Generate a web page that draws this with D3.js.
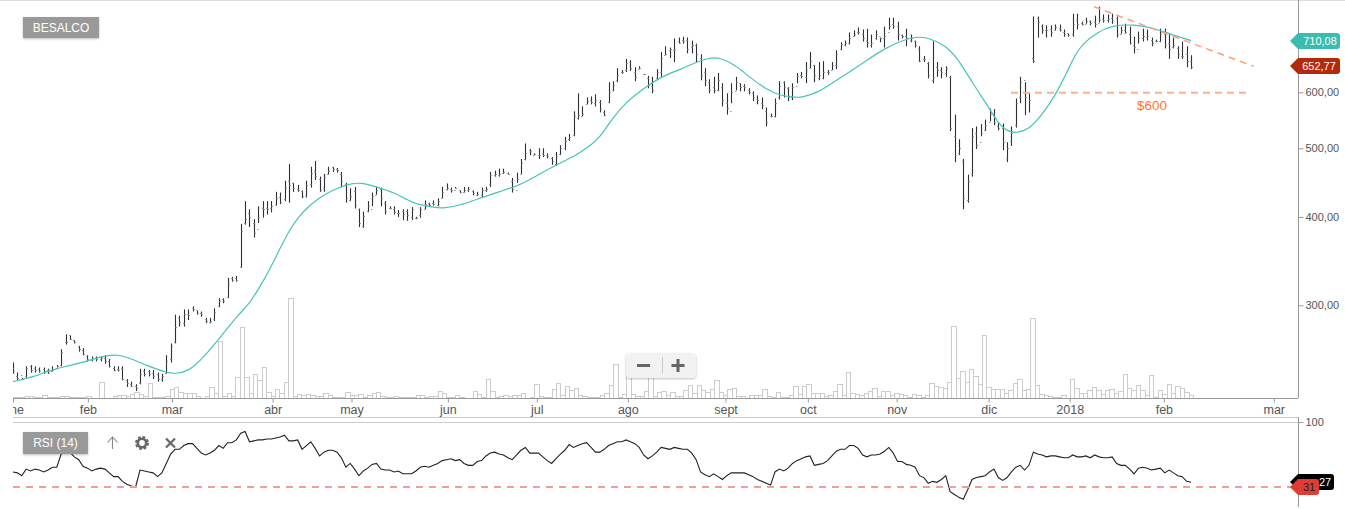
<!DOCTYPE html>
<html>
<head>
<meta charset="utf-8">
<script src="https://cdn.jsdelivr.net/npm/d3@7"></script>
<style>
  body { margin: 0; background: #fff; }
  svg { display: block; font-family: "Liberation Sans", Arial, sans-serif; }
</style>
</head>
<body>
<div id="chart"></div>
<script>
// daily bars
const high = [
249,241,237,246,247,246,245,245,244,246,
247,260,273,272,268,263,261,255,254,254,
254,255,252,246,246,246,236,234,232,244,
244,243,243,241,240,255,265,291,290,296,
296,299,295,294,288,288,297,307,307,328,
329,330,391,421,410,397,414,421,421,421,
434,433,450,475,447,444,436,450,471,480,
456,460,471,471,469,463,447,439,441,411,
407,421,433,441,440,421,414,414,409,410,
410,413,400,413,422,419,422,425,441,446,
440,441,436,441,441,436,434,440,441,463,
465,468,468,462,454,462,483,508,499,492,
500,500,492,486,494,505,519,524,564,598,
573,590,592,596,585,566,620,622,649,645,
669,666,651,653,637,633,631,647,684,697,
694,715,717,719,717,710,703,679,649,626,
631,639,618,598,618,631,618,616,608,602,
594,590,571,560,588,622,622,610,618,639,
641,662,684,656,662,664,645,662,688,706,
710,729,734,741,736,738,724,734,717,743,
765,765,755,724,738,724,710,697,675,662,
708,662,651,653,633,558,515,483,459,534,
537,541,549,569,568,544,542,510,537,588,
631,620,598,768,768,748,746,746,748,748,
736,726,775,775,755,765,758,770,793,773,
773,775,768,743,750,743,719,731,738,736,
717,712,738,738,726,717,697,708,697,677];
const low = [
240,235,236,237,241,241,241,240,240,242,
245,246,264,268,265,258,255,250,250,250,
250,248,245,242,242,235,230,230,227,232,
238,238,236,234,234,240,249,265,280,280,
286,294,291,289,283,283,285,298,302,307,
324,324,339,390,387,374,392,399,403,406,
415,417,421,419,434,434,425,426,440,451,
434,434,459,463,462,441,419,421,411,387,
386,406,414,430,414,403,410,403,400,396,
395,396,397,399,410,414,415,414,425,436,
433,439,432,433,434,429,428,426,434,441,
456,456,460,459,433,447,460,481,489,489,
483,486,484,474,472,489,497,512,520,549,
555,577,577,573,562,555,579,602,620,637,
641,643,622,647,635,608,598,626,631,677,
671,662,703,703,681,681,660,624,612,598,
598,602,573,558,579,604,602,602,596,583,
577,568,537,553,553,586,590,583,585,618,
628,618,649,620,624,626,635,645,647,688,
697,701,719,724,708,694,694,712,706,694,
736,738,710,715,697,706,694,662,662,628,
618,631,628,631,529,478,489,410,419,456,
499,520,529,546,539,530,497,478,504,535,
579,557,562,660,717,726,717,719,734,731,
719,719,719,736,746,750,746,741,753,753,
753,750,717,726,726,701,681,703,708,710,
697,706,706,692,669,692,669,669,651,647];
const open = [
245,238,239,238,246,245,244,244,243,242,
245,247,266,272,268,263,259,254,251,253,
252,253,250,245,244,245,235,232,231,233,
242,242,241,240,236,241,252,266,288,283,
292,297,295,293,287,284,287,299,306,308,
328,328,340,392,405,392,385,412,412,412,
416,427,424,450,447,438,435,428,445,465,
452,440,460,470,468,460,445,422,435,410,
388,408,410,430,438,418,412,410,405,408,
408,400,399,402,411,418,418,416,426,438,
438,437,436,434,437,435,430,430,436,445,
458,458,462,461,450,436,460,483,497,490,
490,492,490,484,475,491,500,515,523,552,
556,578,586,580,582,562,582,604,625,640,
645,662,642,648,636,628,612,628,640,678,
688,688,708,712,712,695,700,670,640,620,
610,605,610,580,565,602,618,612,605,598,
588,580,565,555,555,590,620,608,590,612,
635,630,650,655,628,628,642,645,655,690,
700,705,720,730,725,710,700,715,720,715,
730,750,745,722,720,712,708,690,668,660,
625,652,645,638,630,520,492,480,422,460,
525,510,530,545,560,538,535,485,512,540,
590,625,600,670,765,745,735,738,735,740,
730,728,725,760,752,750,757,755,752,762,
758,765,765,725,735,725,700,690,715,718,
712,708,708,725,705,695,692,675,680,665];
const close = [
242,237,236,245,243,243,242,242,241,243,
246,258,266,269,266,260,256,252,253,252,
253,250,246,243,243,236,233,231,229,240,
240,240,238,236,238,250,263,280,284,292,
291,296,293,292,285,285,294,304,304,322,
326,326,382,397,400,380,400,410,410,414,
426,420,440,444,440,436,428,444,462,457,
437,455,465,468,466,449,426,428,416,392,
401,414,428,436,425,408,412,406,405,404,
403,410,399,410,417,416,417,421,434,440,
436,440,434,436,438,432,431,436,438,458,
460,460,463,460,438,452,477,492,495,491,
490,490,488,480,487,500,512,518,556,558,
560,583,582,585,568,558,600,615,635,640,
660,650,630,650,636,615,605,640,670,680,
690,690,705,710,690,700,680,635,625,605,
605,625,585,570,600,620,610,610,600,590,
585,575,545,555,580,612,610,590,610,632,
632,645,665,635,635,640,640,655,680,702,
705,715,725,730,715,705,705,725,715,720,
745,745,725,720,715,715,700,665,668,635,
630,645,640,650,535,490,500,425,450,520,
505,525,540,560,545,535,510,500,525,580,
620,590,585,665,755,735,735,730,742,735,
725,722,750,750,750,757,752,750,760,760,
762,760,725,735,730,705,695,715,720,720,
705,710,725,700,690,700,680,675,665,652];
// relative volume, no axis in the picture
const volume = [
1,1,1,2,2,1,1,3,1,1,
1,2,2,1,1,1,1,2,0,0,
16,0,0,2,3,3,2,4,6,4,
2,15,1,1,1,2,9,11,6,5,
5,5,2,0,2,11,5,57,2,5,
2,21,71,21,5,24,18,31,6,2,
9,5,16,100,2,4,3,4,3,2,
2,5,3,1,1,1,6,3,3,4,
1,3,5,6,2,1,1,2,1,1,
1,1,3,3,1,2,2,7,5,1,
1,3,1,0,0,7,4,1,19,7,
1,2,3,2,3,3,5,0,1,14,
2,1,1,9,15,3,12,8,10,3,
2,1,1,1,3,5,13,34,1,4,
23,4,2,2,7,21,2,6,7,3,
6,2,2,8,13,5,13,8,6,9,
18,6,3,9,10,2,2,0,3,3,
3,9,2,1,6,1,1,3,12,4,
12,14,5,5,5,2,3,7,14,3,
26,5,4,3,5,7,10,2,7,7,
3,5,4,3,1,4,3,1,3,15,
12,11,10,16,72,20,27,16,29,22,
14,63,11,9,9,9,5,8,15,19,
8,9,80,13,4,3,2,1,1,3,
0,19,10,5,5,8,11,8,4,8,
9,5,7,24,10,8,13,8,3,23,
1,8,4,14,5,12,10,6,3];
const rsi = [
47,46,43,50,48,50,49,47,49,52,
52,66,69,68,63,60,53,51,48,50,
51,50,46,42,42,37,34,32,31,49,
48,47,46,42,46,56,66,71,71,75,
77,77,72,67,65,67,70,75,72,78,
78,81,88,90,79,80,81,81,82,82,
83,84,86,80,80,81,71,75,79,72,
64,68,70,70,68,62,52,56,50,43,
48,51,55,56,50,49,49,47,48,45,
45,45,48,52,53,52,54,56,59,60,
61,59,60,56,54,54,58,59,64,67,
68,66,65,62,60,65,70,73,67,67,
67,63,59,56,61,66,70,76,73,75,
77,78,73,68,68,71,75,77,79,79,
81,79,77,73,65,61,64,68,73,72,
71,73,72,71,71,67,60,47,44,42,
45,42,39,43,46,46,46,46,44,42,
39,37,35,33,47,50,48,51,56,59,
61,63,64,54,55,56,59,64,69,71,
71,75,75,72,65,63,65,65,66,69,
73,67,58,58,55,54,52,43,41,35,
37,36,39,43,26,23,20,18,28,39,
41,42,43,47,50,41,38,41,47,52,
54,49,54,68,66,65,63,64,64,63,
62,62,65,63,63,64,62,65,63,62,
62,63,56,54,54,50,45,51,52,51,
49,50,51,46,49,46,43,42,37,36];

// moving average, read at these bar numbers
const maIndex = [0,5,7,9,12,16,20,24,27,31,35,37,40,43,47.7,51.4,53.7,56,58.2,60.5,62.8,65,68,71,74,77,80,83,87,90,92,96,98,102,107,111,116,120,125,127.9,131,134,137,140,144,148,152,156,159,161,165,168,172,175,179,180,184,187,191,195,199,203,206,209,213,216,219,223,225,227,229,232,234.5,236.8,238.6,240.7,242.5,244.3,247.5,251,256,260,264,269];
const maValue = [234,238,241,243,246,249,254,256,252,246,241,240,242,251,272,291,300,316,333,356,380,399,417,430,439,446,447,441,433,423,417,413,411,415,426,434,444,459,477,486,500,517,553,581,608,631,645,662,671,673,656,631,606,594,590,590,600,618,641,666,692,710,719,717,699,666,620,569,542,529,525,532,553,579,604,641,677,703,729,746,748,741,726,710];

const monthLabels = ["ene","feb","mar","abr","may","jun","jul","ago","sept","oct","nov","dic","2018","feb","mar"];
const monthIndex = [0,17.1,36.3,59.3,77.3,99.3,119.6,140.4,162.7,181.5,201.8,222.8,241.3,262.8,287.9];
const priceTicks = [300,400,500,600];
const rsiTicks = [100];
const lastPrice = "652,77", lastPriceValue = 652.77;
const lastMa = "710,08", lastMaValue = 710.08;
const rsiLevel = 31, rsiLabel = "27";

// hand drawn lines on the chart
const trendIndex = [246.8,283.3], trendValue = [793,653];
const levelIndex = [227.9,282], levelValue = [600,600];

const W = 1345, H = 509;
const left = 13, right = 1298;
const volBase = 398, paneTop = 417, rsiTop = 422;

const svg = d3.select("#chart").append("svg").attr("width", W).attr("height", H);
const defs = svg.append("defs");
defs.append("clipPath").attr("id", "plot").append("rect")
  .attr("x", left).attr("y", 0).attr("width", right - left).attr("height", H);
defs.append("clipPath").attr("id", "axisClip").append("rect")
  .attr("x", left).attr("y", -5).attr("width", right - left).attr("height", 30);
const shadow = defs.append("filter").attr("id", "shadow")
  .attr("x", "-10%").attr("y", "-20%").attr("width", "120%").attr("height", "150%");
shadow.append("feDropShadow").attr("dx", 0).attr("dy", 1).attr("stdDeviation", 1)
  .attr("flood-color", "#000").attr("flood-opacity", 0.25);

const x = d3.scaleLinear().domain([0, 269]).range([left, 1191]);
const xVol = d3.scaleLinear().domain([0, 268]).range([11.5, 1188.5]);
const y = d3.scaleLog().domain([300, 600]).range([305.3, 92.3]);
const yVol = d3.scaleLinear().domain([0, 100]).range([volBase, 298]);
const yRsi = d3.scaleLinear().domain([rsiLevel, 100]).range([487, rsiTop]);
const px = (i) => Math.round(x(i)) + 0.5;

// frame
const frame = svg.append("g").attr("fill", "none");
frame.append("line").attr("x1", 0).attr("x2", W).attr("y1", 0.5).attr("y2", 0.5).attr("stroke", "#ddd");
frame.append("line").attr("x1", right + 0.5).attr("x2", right + 0.5).attr("y1", 0).attr("y2", volBase).attr("stroke", "#999");
frame.append("line").attr("x1", right + 0.5).attr("x2", right + 0.5).attr("y1", paneTop).attr("y2", 507).attr("stroke", "#999");
frame.append("line").attr("x1", left).attr("x2", right).attr("y1", paneTop + 0.5).attr("y2", paneTop + 0.5).attr("stroke", "#ccc");
frame.append("line").attr("x1", left).attr("x2", right).attr("y1", rsiTop + 0.5).attr("y2", rsiTop + 0.5).attr("stroke", "#ccc");

const plot = svg.append("g").attr("clip-path", "url(#plot)");

// volume
plot.append("g").selectAll("rect").data(volume).enter().append("rect")
  .attr("x", (d, i) => Math.round(xVol(i)) + 0.5)
  .attr("y", (d) => Math.round(yVol(d)) + 0.5)
  .attr("width", (d, i) => Math.round(xVol(i + 1)) - Math.round(xVol(i)))
  .attr("height", (d) => volBase - Math.round(yVol(d)))
  .attr("fill", "#fff")
  .attr("fill-opacity", 0)
  .attr("stroke", "#ccc")
  .attr("stroke-width", 1);

// bars
const bars = plot.append("g");
bars.selectAll(".hl").data(high).enter().append("line")
  .attr("x1", (d, i) => px(i)).attr("x2", (d, i) => px(i))
  .attr("y1", (d) => y(d)).attr("y2", (d, i) => y(low[i]))
  .attr("stroke", "#2b3033").attr("stroke-width", 1.1);
bars.selectAll(".op").data(open).enter().append("line")
  .attr("x1", (d, i) => px(i) - 1.5).attr("x2", (d, i) => px(i))
  .attr("y1", (d) => Math.round(y(d)) + 0.5).attr("y2", (d) => Math.round(y(d)) + 0.5)
  .attr("stroke", "#999").attr("stroke-width", 1);
bars.selectAll(".cl").data(close).enter().append("line")
  .attr("x1", (d, i) => px(i)).attr("x2", (d, i) => px(i) + 1.5)
  .attr("y1", (d) => Math.round(y(d)) + 0.5).attr("y2", (d) => Math.round(y(d)) + 0.5)
  .attr("stroke", "#999").attr("stroke-width", 1);

// moving average
const maLine = d3.line().x((d, i) => x(maIndex[i])).y((d) => y(d)).curve(d3.curveBasis);
plot.append("path").attr("d", maLine(maValue))
  .attr("fill", "none").attr("stroke", "#45c4b8").attr("stroke-width", 1.2);

// drawn lines
plot.append("line")
  .attr("x1", x(trendIndex[0])).attr("x2", x(trendIndex[1]))
  .attr("y1", y(trendValue[0])).attr("y2", y(trendValue[1]))
  .attr("stroke", "#ff9e73").attr("stroke-width", 1.5).attr("stroke-dasharray", "7,5");
plot.append("line")
  .attr("x1", x(levelIndex[0])).attr("x2", x(levelIndex[1]))
  .attr("y1", y(levelValue[0]) + 0.5).attr("y2", y(levelValue[1]) + 0.5)
  .attr("stroke", "#ffb08c").attr("stroke-width", 2).attr("stroke-dasharray", "7,5");
plot.append("text").text("$600")
  .attr("x", 1152).attr("y", 110).attr("text-anchor", "middle")
  .attr("font-size", 13.5).attr("fill", "#ff7733");

// time axis
const xAxis = d3.axisBottom(x).tickValues(monthIndex)
  .tickFormat((d, i) => monthLabels[i]).tickSize(4).tickPadding(3);
const gx = svg.append("g").attr("transform", `translate(0,${volBase + 0.5})`)
  .attr("clip-path", "url(#axisClip)").call(xAxis);
gx.select(".domain").attr("stroke", "#999").attr("d", `M${left},0H${right}`);
gx.selectAll("line").attr("stroke", "#999");
gx.selectAll("text").attr("fill", "#555").attr("font-size", 12.5)
  .attr("font-family", "'Liberation Sans', Arial, sans-serif");

// price axis
const yAxis = d3.axisRight(y).tickValues(priceTicks)
  .tickFormat((d) => d + ",00").tickSize(5).tickPadding(2);
const gy = svg.append("g").attr("transform", `translate(${right + 0.5},0)`).call(yAxis);
gy.select(".domain").remove();
gy.selectAll("line").attr("stroke", "#999");
gy.selectAll("text").attr("fill", "#555").attr("font-size", 11)
  .attr("font-family", "'Liberation Sans', Arial, sans-serif");

// rsi pane
const rsiLine = d3.line().x((d, i) => x(i)).y((d) => yRsi(d));
const rsiPlot = svg.append("g").attr("clip-path", "url(#plot)");
rsiPlot.append("path").attr("d", rsiLine(rsi))
  .attr("fill", "none").attr("stroke", "#222").attr("stroke-width", 1.1);
svg.append("line").attr("x1", left).attr("x2", 1291)
  .attr("y1", yRsi(rsiLevel)).attr("y2", yRsi(rsiLevel))
  .attr("stroke", "#f29c9c").attr("stroke-width", 2).attr("stroke-dasharray", "7,6");

const rsiAxis = d3.axisRight(yRsi).tickValues(rsiTicks).tickSize(5).tickPadding(2);
const gr = svg.append("g").attr("transform", `translate(${right + 0.5},0)`).call(rsiAxis);
gr.select(".domain").remove();
gr.selectAll("line").attr("stroke", "#999");
gr.selectAll("text").attr("fill", "#555").attr("font-size", 11)
  .attr("font-family", "'Liberation Sans', Arial, sans-serif");

// value tags on the right
function tag(cy, x2, fill, label, textX, textFill) {
  const h = 8, r = 3, x0 = 1290;
  svg.append("path")
    .attr("d", `M${x0},${cy}L${x0 + 8},${cy - h}H${x2 - r}Q${x2},${cy - h} ${x2},${cy - h + r}V${cy + h - r}Q${x2},${cy + h} ${x2 - r},${cy + h}H${x0 + 8}Z`)
    .attr("fill", fill);
  svg.append("text").text(label)
    .attr("x", textX).attr("y", cy + 4).attr("text-anchor", "middle")
    .attr("font-size", 11).attr("fill", textFill);
}
tag(Math.round(y(lastMaValue)), 1340, "#38bdb0", lastMa, 1320, "#fff");
tag(Math.round(y(lastPriceValue)), 1340, "#b5290a", lastPrice, 1319, "#fff");
tag(Math.round(yRsi(rsi[rsi.length - 1])), 1334, "#000", rsiLabel, 1325, "#fff");
tag(Math.round(yRsi(rsiLevel)), 1319, "#e03c36", String(rsiLevel), 1309, "#222");

// title boxes
function label(x0, y0, w, h, txt) {
  svg.append("rect").attr("x", x0).attr("y", y0).attr("width", w).attr("height", h)
    .attr("fill", "#999").attr("filter", "url(#shadow)");
  svg.append("text").text(txt)
    .attr("x", x0 + w / 2).attr("y", y0 + h / 2 + 4).attr("text-anchor", "middle")
    .attr("font-size", 12).attr("fill", "#fff");
}
label(23, 17, 76, 21, "BESALCO");
label(23, 432, 65, 22, "RSI (14)");

// rsi pane icons
const icons = svg.append("g").attr("fill", "none");
icons.append("path").attr("d", "M112.5,449V437M107.5,442.5L112.5,437L117.5,442.5")
  .attr("stroke", "#888").attr("stroke-width", 1.1);
icons.append("circle").attr("cx", 142).attr("cy", 443).attr("r", 4.2)
  .attr("stroke", "#666").attr("stroke-width", 2.6);
icons.append("circle").attr("cx", 142).attr("cy", 443).attr("r", 6)
  .attr("stroke", "#666").attr("stroke-width", 2).attr("stroke-dasharray", "2.7,2");
icons.append("path").attr("d", "M166,438.5L175,447.5M175,438.5L166,447.5")
  .attr("stroke", "#666").attr("stroke-width", 2.2);

// zoom buttons
const zoomBox = svg.append("g");
zoomBox.append("rect").attr("x", 626).attr("y", 353).attr("width", 70).attr("height", 25).attr("rx", 4)
  .attr("fill", "#f2f2f2").attr("filter", "url(#shadow)");
zoomBox.append("line").attr("x1", 662.5).attr("x2", 662.5).attr("y1", 357).attr("y2", 374).attr("stroke", "#ccc");
zoomBox.append("path").attr("d", "M637,365.5H650M671.5,365.5H684.5M678,359V372")
  .attr("stroke", "#666").attr("stroke-width", 3).attr("fill", "none");
</script>
</body>
</html>
